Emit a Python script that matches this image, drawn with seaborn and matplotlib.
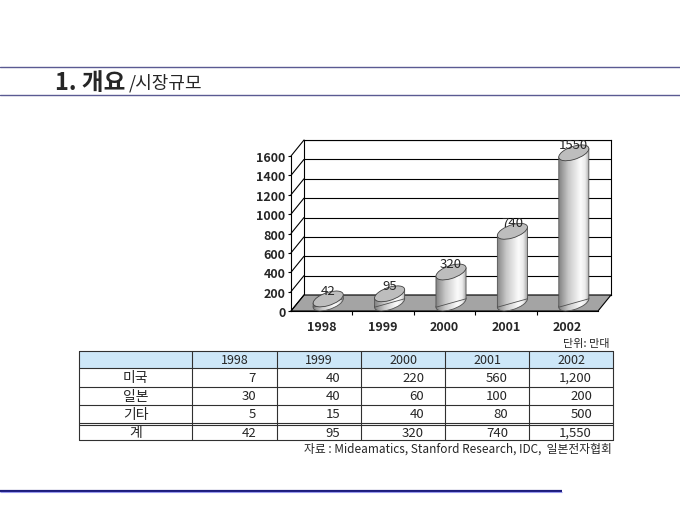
import numpy as np
import matplotlib
matplotlib.use("Agg")
import matplotlib.pyplot as plt
import matplotlib.patches as mpatches
import matplotlib.transforms as mtransforms
from matplotlib.colors import LinearSegmentedColormap
from matplotlib.lines import Line2D
import seaborn as sns

# data
years = ["1998", "1999", "2000", "2001", "2002"]
usa = [7, 40, 220, 560, 1200]
japan = [30, 40, 60, 100, 200]
others = [5, 15, 40, 80, 500]
total = [42, 95, 320, 740, 1550]
row_names = ["미국", "일본", "기타", "계"]
yticks = list(range(0, 1601, 200))

title_main = "1. 개요"
title_sub = "/시장규모"
unit_text = "단위: 만대"
source_text = "자료 : Mideamatics, Stanford Research, IDC,  일본전자협회"

sns.set_style("white")
plt.rcParams['font.family'] = ['Noto Sans CJK KR', 'DejaVu Sans']

W, H = 680, 510
fig = plt.figure(figsize=(W / 100, H / 100), dpi=100)


def rect(x0, y0, x1, y1):
    # pixel box (top-left origin) -> figure fraction
    return [x0 / W, 1 - y1 / H, (x1 - x0) / W, (y1 - y0) / H]


DX, DY = 13, 16                      # depth of the 3d box, pixels
front = (291, 157, 598, 312)         # front plane: x0, y(1600), x1, y(0)
ppu = (front[3] - front[1]) / 1600   # pixels per unit

ax_back = fig.add_axes(rect(front[0] + DX, front[1] - DY, front[2] + DX, front[3] - DY), zorder=0)
ax = fig.add_axes(rect(*front), zorder=1)
# bars sit in the middle plane, axes reaches below 0 so the bottom caps show
axb = fig.add_axes(rect(front[0] + DX / 2, front[1] - DY / 2,
                        front[2] + DX / 2, front[3] - DY / 2 + 200 * ppu), zorder=2)

# back wall
ax_back.set_xlim(-0.5, 4.5)
ax_back.set_ylim(0, 1600)
ax_back.set_xticks([])
ax_back.set_yticks([])
for t in yticks[1:]:
    ax_back.axhline(t, color='black', lw=0.8)
for s in ax_back.spines.values():
    s.set_visible(True)
    s.set_color('black')
    s.set_linewidth(0.8)

# front plane: axis, ticks
ax.set_xlim(-0.5, 4.5)
ax.set_ylim(0, 1600)
ax.patch.set_alpha(0)
ax.set_yticks(yticks)
ax.set_xticks(range(len(years)))
ax.set_xticklabels(years)
ax.set_xticks([0.5, 1.5, 2.5, 3.5], minor=True)
ax.tick_params(axis='x', which='major', bottom=False, pad=3, labelsize=9)
ax.tick_params(axis='x', which='minor', bottom=True, length=3, width=0.8, color='black')
ax.tick_params(axis='y', left=True, length=2, width=0.8, pad=2, labelsize=9, color='black')
for lab in ax.get_xticklabels() + ax.get_yticklabels():
    lab.set_fontweight('bold')
ax.spines[['top', 'right']].set_visible(False)
for s in ['left', 'bottom']:
    ax.spines[s].set_color('black')
    ax.spines[s].set_linewidth(0.8)

ident = mtransforms.IdentityTransform()
fl = [ax.transData.transform((-0.5, 0)), ax.transData.transform((4.5, 0)),
      ax_back.transData.transform((4.5, 0)), ax_back.transData.transform((-0.5, 0))]
ax.add_artist(mpatches.Polygon(fl, closed=True, transform=ident, facecolor='#a4a4a4',
                               edgecolor='black', lw=0.8, clip_on=False, zorder=1))
for t in yticks:
    p0 = ax.transData.transform((-0.5, t))
    p1 = ax_back.transData.transform((-0.5, t))
    ax.add_artist(Line2D([p0[0], p1[0]], [p0[1], p1[1]], transform=ident,
                         color='black', lw=0.8, clip_on=False))

# cylinders
sns.barplot(x=years, y=total, ax=axb, width=0.49, color='#dddddd', saturation=1)
axb.set_xlim(-0.5, 4.5)
axb.set_ylim(-200, 1600)
axb.set_autoscale_on(False)
axb.axis('off')

K, B = 0.28, 6.7
cmap = LinearSegmentedColormap.from_list(
    'cyl', [(0, '#858585'), (0.3, '#c8c8c8'), (0.7, '#fbfbfb'), (0.85, '#ececec'), (1, '#a0a0a0')])
grad = np.linspace(0, 1, 100)[None, :]


def cap_tf(x, y, a):
    m = np.array([[a, 0, 0], [K * a, B, 0], [0, 0, 1]])
    return mtransforms.Affine2D(m) + mtransforms.ScaledTranslation(x, y, axb.transData)


for i, bar in enumerate(list(axb.patches)):
    w = bar.get_width()
    xc = bar.get_x() + w / 2
    v = bar.get_height()
    cx = axb.transData.transform((xc, 0))[0]
    a = axb.transData.transform((xc + w / 2, 0))[0] - cx
    skew = mtransforms.Affine2D(np.array([[1, 0, 0], [K, 1, -K * cx], [0, 0, 1]]))
    bar.set_transform(axb.transData + skew)
    bar.set_facecolor('none')
    bar.set_edgecolor('#505050')
    bar.set_linewidth(0.6)
    bar.set_zorder(3)

    bottom = mpatches.Circle((0, 0), 1, transform=cap_tf(xc, 0, a), facecolor='none',
                             edgecolor='#505050', lw=0.6, zorder=1.5)
    axb.add_artist(bottom)
    im0 = axb.imshow(grad, extent=(xc - w / 2, xc + w / 2, -150, 150), aspect='auto',
                     cmap=cmap, zorder=1, interpolation='bilinear')
    im0.set_clip_path(bottom.get_path(), bottom.get_transform())

    im = axb.imshow(grad, extent=(xc - w / 2, xc + w / 2, -150, v + 150), aspect='auto',
                    cmap=cmap, zorder=2, interpolation='bilinear')
    im.set_clip_path(bar.get_path(), bar.get_transform())

    top = mpatches.Circle((0, 0), 1, transform=cap_tf(xc, v, a), facecolor='#bdbdbd',
                          edgecolor='#404040', lw=0.6, zorder=4, clip_on=False)
    axb.add_artist(top)
    axb.annotate(str(total[i]), (xc, v), xytext=(0, 6), textcoords='offset points',
                 ha='center', va='center', fontsize=9.5, fontweight='medium',
                 zorder=6, annotation_clip=False)

axb.set_xlim(-0.5, 4.5)
axb.set_ylim(-200, 1600)

# page decoration, title and table (pixel coordinates)
deco = fig.add_axes([0, 0, 1, 1], zorder=-1)
deco.set_xlim(0, W)
deco.set_ylim(H, 0)
deco.axis('off')

deco.plot([0, W], [68, 68], color='#5a5a92', lw=1.0)
deco.plot([0, W], [96, 96], color='#5a5a92', lw=1.0)
deco.text(55, 82.5, title_main, fontsize=17, fontweight='black', ha='left', va='center')
deco.text(129, 83.5, title_sub, fontsize=13, ha='left', va='center')

deco.plot([0, 562], [491.5, 491.5], color='#1c1c7c', lw=1.6, solid_capstyle='butt')
deco.plot([0, 562], [493.3, 493.3], color='#9a9af0', lw=0.8, solid_capstyle='butt')

col_edges = [79, 192, 277, 361, 445, 529, 613]
row_tops = [369, 388, 406, 426]
row_bots = [388, 406, 424, 441]
deco.add_patch(mpatches.Rectangle((col_edges[0], 352), col_edges[-1] - col_edges[0], 17,
                                  facecolor='#cde7f8', edgecolor='none'))
for y in [352, 369, 388, 406, 424, 426, 441]:
    deco.plot([col_edges[0], col_edges[-1]], [y, y], color='#303030', lw=0.8)
for x in col_edges:
    deco.plot([x, x], [352, 441], color='#303030', lw=0.8)

for j, yr in enumerate(years):
    deco.text((col_edges[j + 1] + col_edges[j + 2]) / 2, 360.5, yr, fontsize=9,
              ha='center', va='center')
for r, vals in enumerate([usa, japan, others, total]):
    yc = (row_tops[r] + row_bots[r]) / 2
    deco.text((col_edges[0] + col_edges[1]) / 2, yc, row_names[r], fontsize=10,
              ha='center', va='center')
    for j, v in enumerate(vals):
        deco.text(col_edges[j + 2] - 21, yc, f"{v:,}", fontsize=9.5, ha='right', va='center')

deco.text(610, 344, unit_text, fontsize=8, ha='right', va='center')
deco.text(612, 449, source_text, fontsize=8.5, ha='right', va='center')

fig.savefig("out.png", dpi=100)
